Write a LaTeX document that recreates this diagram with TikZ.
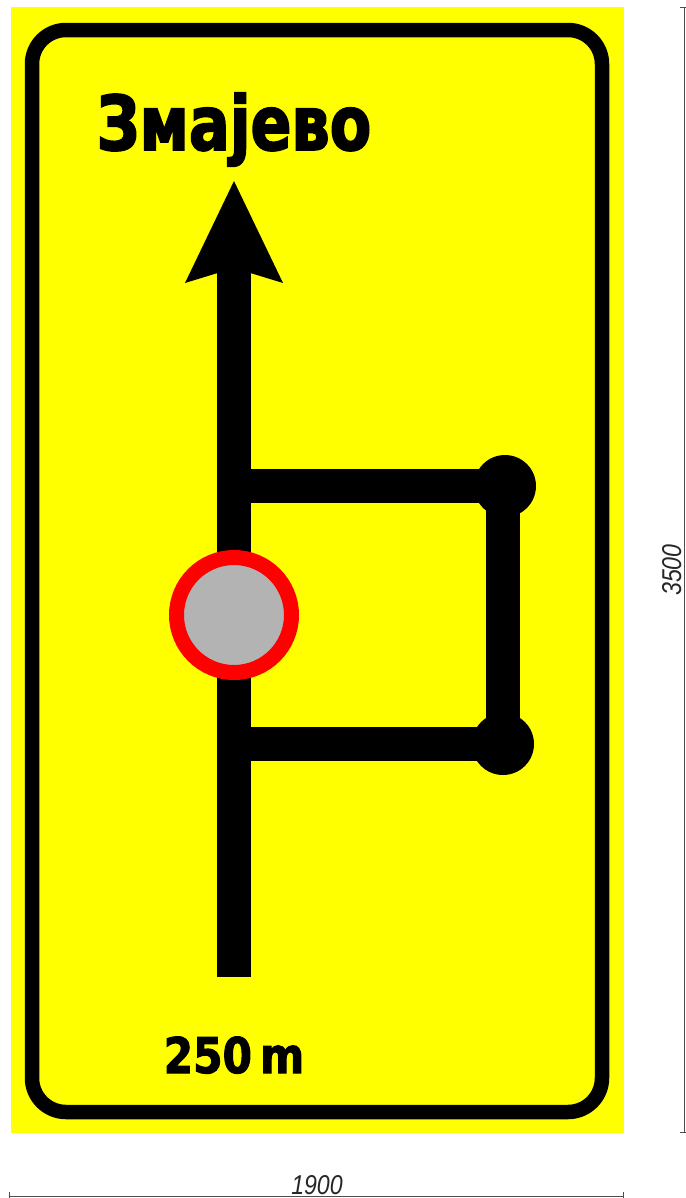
\documentclass[tikz,border=0pt]{standalone}
\usepackage{fontspec}
\setmainfont{DejaVu Sans}
\newfontfamily\signfont[FakeStretch=0.8,FakeBold=2.2]{DejaVu Sans Bold}
\newfontfamily\distfont[FakeStretch=0.86,FakeBold=2]{DejaVu Sans Bold}
\newfontfamily\dimfont[FakeStretch=0.85]{Liberation Sans}
\usetikzlibrary{arrows.meta}
\definecolor{signyellow}{RGB}{255,255,0}
\definecolor{signgray}{RGB}{179,179,179}
\tikzset{
    road/.style={line width=34*0.02cm},
    dimline/.style={draw=black!70,line width=0.45pt,{Bar[width=5pt,length=0pt]}-{Bar[width=5pt,length=0pt]}},
    dimtext/.style={font=\dimfont\itshape\fontsize{15.5}{15.5}\selectfont,inner sep=0pt,text=black!85}
}
\begin{document}
\begin{tikzpicture}[x=0.02cm,y=-0.02cm]
    \useasboundingbox (0,0) rectangle (686,1198);
    \fill [signyellow] (11,7) rectangle (624,1133);
    \draw [line width=14.5*0.02cm,rounded corners=34*0.02cm] (32,30) rectangle (602,1112);
    % roads
    \coordinate (start) at (234,977);
    \coordinate (tip) at (234,181);
    \coordinate (upper) at (505,486);
    \coordinate (lower) at (503,744);
    \coordinate (island) at (234,615);
    \draw [road] (start) -- (234,262);
    \fill (tip) -- (283,283) -- (234,268) -- (185,283) -- cycle;
    \draw [road] (234,486) -- (upper);
    \draw [road] (234,744) -- (lower);
    \draw [road] (503,486) -- (503,744);
    \foreach \c in {upper,lower}
        \fill (\c) circle (31);
    \draw [red,fill=signgray,line width=15*0.02cm] (island) circle (57.5);
    % texts
    \node (town) [anchor=base,inner sep=0pt,font=\signfont\fontsize{43}{43}\selectfont] at (234,150) {Змајево};
    \node (dist) [anchor=base,inner sep=0pt,font=\distfont\fontsize{28}{28}\selectfont] at (234,1073) {250\,m};
    % dimensions
    \coordinate (wl) at (9,1196);
    \coordinate (wr) at (624,1196);
    \coordinate (ht) at (684.5,7);
    \coordinate (hb) at (684.5,1133);
    \draw [dimline] (wl) -- (wr);
    \draw [dimline] (ht) -- (hb);
    \node (width) [dimtext,anchor=base] at (317,1194) {1900};
    \node (height) [dimtext,anchor=base,rotate=90] at (681,570) {3500};
\end{tikzpicture}
\end{document}
